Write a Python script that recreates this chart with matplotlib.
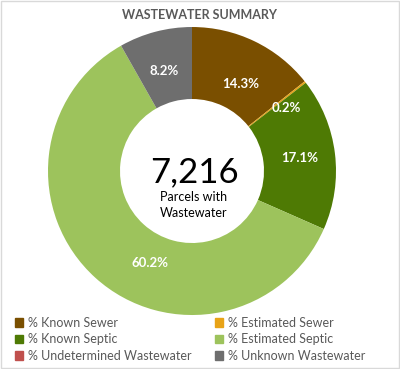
import numpy as np
import matplotlib.pyplot as plt
from matplotlib.patches import Rectangle

plt.rcParams['font.family'] = ['Lato', 'DejaVu Sans']

# datos
categorias = ['% Known Sewer', '% Estimated Sewer', '% Known Septic',
              '% Estimated Septic', '% Undetermined Wastewater', '% Unknown Wastewater']
valores = [14.3, 0.2, 17.1, 60.2, 0.0, 8.2]
colores = ['#7A4F00', '#E8A317', '#4E7A04', '#9DC35C', '#C0504D', '#6E6E6E']
total_parcelas = '7,216'

# ajuste de etiquetas (radio, giro en grados) estilo Excel
label_r = [0.69, 0.79, 0.75, 0.70, 0.7, 0.72]
label_shift = [-3.7, -4.6, 0.0, 17.6, 0.0, 0.8]

fig = plt.figure(figsize=(4, 3.69), dpi=100)
fig.patches.append(Rectangle((0.002, 0.002), 0.996, 0.996, transform=fig.transFigure,
                             fill=False, edgecolor='#D9D9D9', linewidth=1))

ax = fig.add_axes([0.12, 0.1463, 0.72, 0.7805])
wedges, _ = ax.pie(valores, colors=colores, startangle=90, counterclock=False,
                   radius=1, wedgeprops=dict(width=0.5, linewidth=0))
ax.set_xlim(-1, 1); ax.set_ylim(-1, 1)
ax.set_aspect('equal')
ax.axis('off')

for w, v, r, s in zip(wedges, valores, label_r, label_shift):
    if v <= 0:
        continue
    ang = np.deg2rad((w.theta1 + w.theta2) / 2 + s)
    ax.text(r*np.cos(ang), r*np.sin(ang), f'{v:.1f}%', ha='center', va='center',
            color='white', fontsize=9.5, fontweight='bold')

ax.text(0.02, -0.08, total_parcelas, ha='center', va='baseline', fontsize=25, color='black')
ax.text(0.01, -0.205, 'Parcels with', ha='center', va='baseline', fontsize=9, color='black')
ax.text(0.01, -0.32, 'Wastewater', ha='center', va='baseline', fontsize=9, color='black')

fig.text(0.5, 1 - 15/369, 'WASTEWATER SUMMARY', ha='center', va='center',
         fontsize=9, fontweight='bold', color='#595959')

# leyenda (2 columnas, orden por filas)
orden = [0, 2, 4, 1, 3, 5]
handles = [Rectangle((0, 0), 1, 1, color=colores[i]) for i in orden]
labels = [categorias[i] for i in orden]
fig.legend(handles, labels, loc='upper left', bbox_to_anchor=(0.0375, 1 - 317/369),
           ncol=2, frameon=False, fontsize=9, handlelength=0.65, handleheight=0.65,
           handletextpad=0.4, columnspacing=1.85, labelspacing=0.35, labelcolor='#595959',
           borderaxespad=0, borderpad=0)

plt.savefig('out.png', dpi=100)
